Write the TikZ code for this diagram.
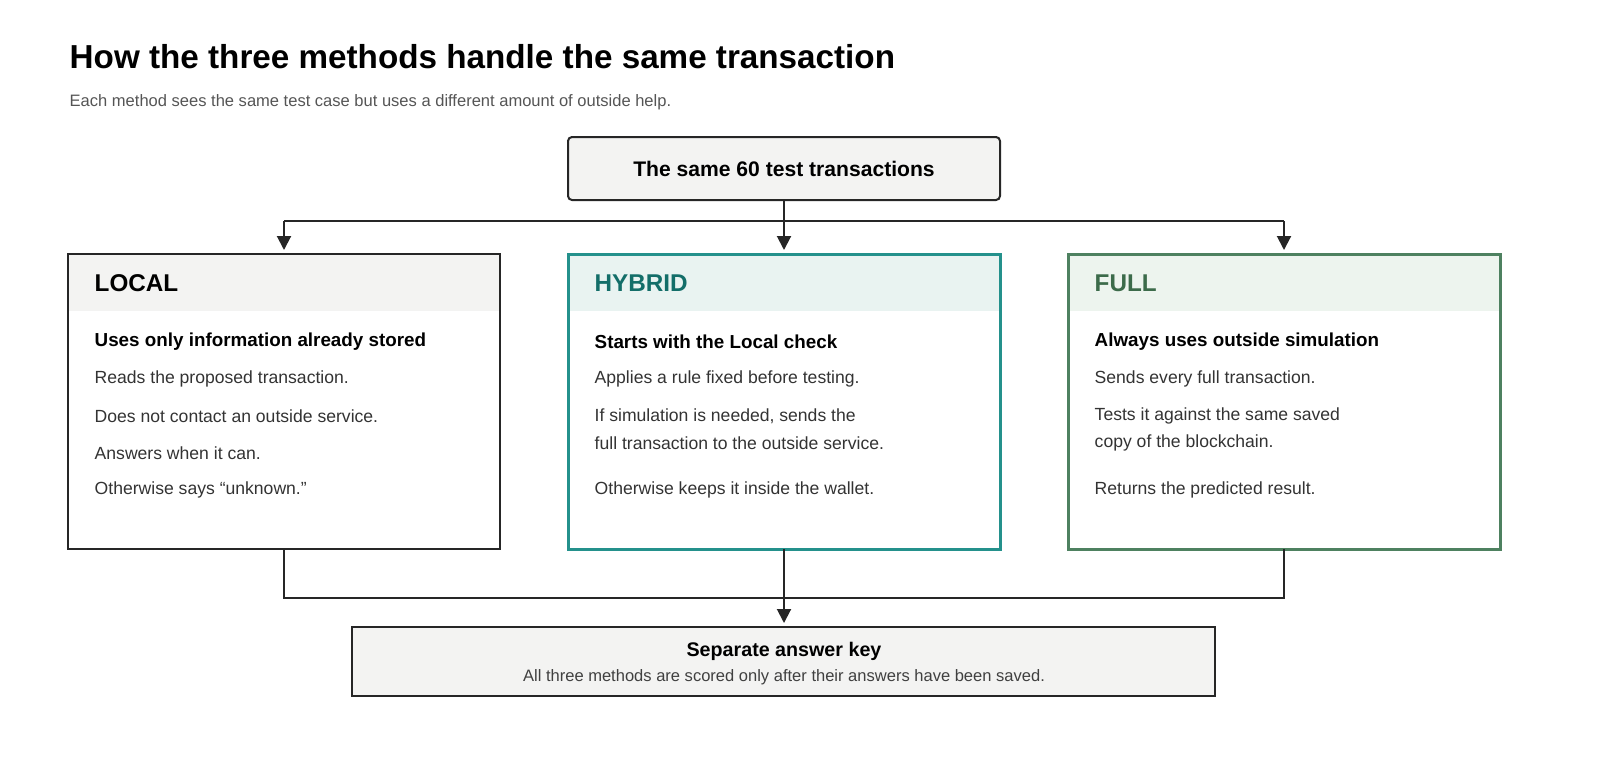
\documentclass[tikz,border=0pt]{standalone}
\usepackage{fontspec}
\setmainfont{Liberation Sans}
\usetikzlibrary{arrows.meta,positioning}
\definecolor{boxgray}{HTML}{F3F3F2}
\definecolor{hybline}{HTML}{24918C}
\definecolor{hybfill}{HTML}{E9F3F1}
\definecolor{hybtext}{HTML}{136E69}
\definecolor{fulline}{HTML}{4E8160}
\definecolor{fulfill}{HTML}{EDF4EE}
\definecolor{fultext}{HTML}{3C6B4A}
\definecolor{subgray}{HTML}{555555}
\newcommand{\fs}[1]{\fontsize{#1}{#1}\selectfont}
\tikzset{
  line/.style={draw=black!85, line width=0.2mm},
  arr/.style={line, -{Triangle[length=1.4mm,width=1.4mm]}},
  txt/.style={anchor=west, inner sep=0, font=\fs{5pt}, text=black!80},
  head/.style={anchor=west, inner sep=0, font=\fs{6.9pt}\bfseries},
  lead/.style={anchor=west, inner sep=0, font=\fs{5.35pt}\bfseries},
}
\begin{document}
\begin{tikzpicture}[x=0.01cm,y=-0.01cm]
  \useasboundingbox (0,0) rectangle (1600,760);
  \node[anchor=base west, inner sep=0, font=\fs{9.45pt}\bfseries] (title) at (69,68) {How the three methods handle the same transaction};
  \node[anchor=base west, inner sep=0, font=\fs{4.7pt}, text=subgray] (sub) at (69,106) {Each method sees the same test case but uses a different amount of outside help.};
  % top box
  \draw[line, rounded corners=0.4mm, fill=boxgray] (568,137) rectangle (1000,200);
  \node[font=\fs{6pt}\bfseries] (src) at (784,168.5) {The same 60 test transactions};
  % panels
  \fill[boxgray] (68,254) rectangle (500,311);
  \draw[line] (68,254) rectangle (500,549);
  \fill[hybfill] (568,254) rectangle (1000,311);
  \draw[hybline, line width=0.3mm] (568,254) rectangle (1000,549);
  \fill[fulfill] (1068,254) rectangle (1500,311);
  \draw[fulline, line width=0.3mm] (1068,254) rectangle (1500,549);
  \coordinate (loc) at (284,250);
  \coordinate (hyb) at (784,250);
  \coordinate (ful) at (1284,250);
  \coordinate (locb) at (284,549);
  \coordinate (hybb) at (784,549);
  \coordinate (fulb) at (1284,549);
  \node[head] (lochead) at (94,283) {LOCAL};
  \node[lead] at (94,342) {Uses only information already stored};
  \node[txt] at (94,379) {Reads the proposed transaction.};
  \node[txt] at (94,416) {Does not contact an outside service.};
  \node[txt] at (94,453) {Answers when it can.};
  \node[txt] at (94,490) {Otherwise says “unknown.”};
  \node[head, text=hybtext] (hybhead) at (594,283) {HYBRID};
  \node[lead] at (594,342) {Starts with the Local check};
  \node[txt] at (594,379) {Applies a rule fixed before testing.};
  \node[txt] at (594,416) {If simulation is needed, sends the};
  \node[txt] at (594,443) {full transaction to the outside service.};
  \node[txt] at (594,490) {Otherwise keeps it inside the wallet.};
  \node[head, text=fultext] (fulhead) at (1094,283) {FULL};
  \node[lead] at (1094,342) {Always uses outside simulation};
  \node[txt] at (1094,379) {Sends every full transaction.};
  \node[txt] at (1094,416) {Tests it against the same saved};
  \node[txt] at (1094,443) {copy of the blockchain.};
  \node[txt] at (1094,490) {Returns the predicted result.};
  % answer key
  \draw[line, fill=boxgray] (352,627) rectangle (1215,696);
  \node[font=\fs{5.6pt}\bfseries] (key) at (784,651) {Separate answer key};
  \node[font=\fs{4.7pt}, text=black!75] at (784,677) {All three methods are scored only after their answers have been saved.};
  \coordinate (keytop) at (784,623);
  % connectors
  \draw[arr] (784,200) -- (hyb);
  \draw[arr] (loc |- 0,221) -- (loc);
  \draw[line] (loc |- 0,221) -- (ful |- 0,221);
  \draw[arr] (ful |- 0,221) -- (ful);
  \draw[line] (locb) |- (fulb |- 0,598) -- (fulb);
  \draw[arr] (hybb) -- (keytop);
\end{tikzpicture}
\end{document}
